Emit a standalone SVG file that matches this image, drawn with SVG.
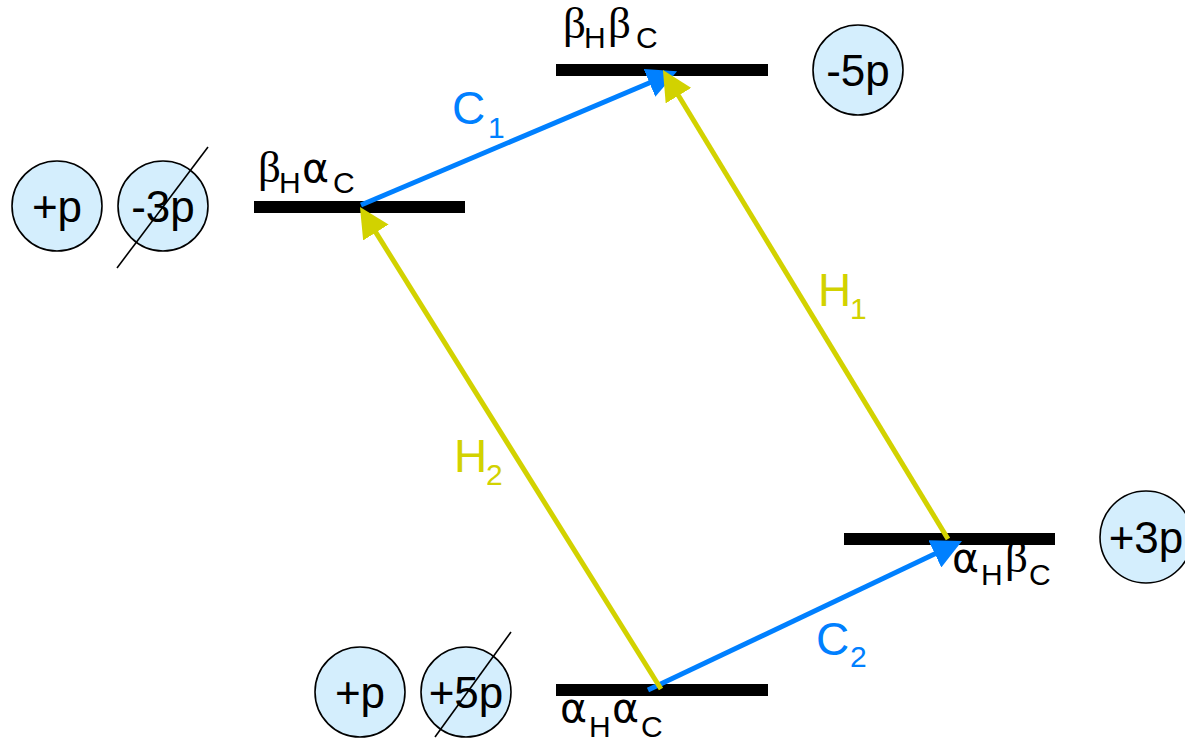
<svg xmlns="http://www.w3.org/2000/svg" width="1185" height="741" viewBox="0 0 1185 741">
<style>
.bar{fill:#000}
.circ{fill:#d4eefd;stroke:#000;stroke-width:1.6}
.ct{font-family:"Liberation Sans",Arial,sans-serif;font-size:44px;fill:#000;text-anchor:middle}
.strike{stroke:#000;stroke-width:1.6;fill:none}
.lv{fill:#000}
.b{font-family:"Liberation Serif","Times New Roman",serif;font-size:45px}
.a{font-family:"DejaVu Sans",sans-serif;font-size:41px}
.sb{font-family:"Liberation Sans",Arial,sans-serif;font-size:30px}
.blue{stroke:#0080ff;stroke-width:5;fill:none}
.yel{stroke:#d2d200;stroke-width:5;fill:none}
.lb{font-family:"Liberation Sans",Arial,sans-serif;font-size:46px}
.ls{font-family:"Liberation Sans",Arial,sans-serif;font-size:30px}
</style>
<defs>
<marker id="ab" markerUnits="userSpaceOnUse" markerWidth="30" markerHeight="30" viewBox="0 0 30 30" refX="6" refY="15" orient="auto"><path d="M0,0 L30,15 L0,30 z" fill="#0080ff"/></marker>
<marker id="ay" markerUnits="userSpaceOnUse" markerWidth="30" markerHeight="30" viewBox="0 0 30 30" refX="6" refY="15" orient="auto"><path d="M0,0 L30,15 L0,30 z" fill="#d2d200"/></marker>
</defs>

<g id="level-bHbC">
<rect class="bar" x="556" y="64" width="212" height="12"/>
<text class="lv"><tspan class="b" x="563" y="38">β</tspan><tspan class="sb" x="584" y="48">H</tspan><tspan class="b" x="608" y="38">β</tspan><tspan class="sb" x="636" y="48">C</tspan></text>
</g>
<g id="level-bHaC">
<rect class="bar" x="254" y="201" width="211" height="12"/>
<text class="lv"><tspan class="b" x="258" y="182">β</tspan><tspan class="sb" x="279" y="193">H</tspan><tspan class="a" x="302" y="182">α</tspan><tspan class="sb" x="333" y="193">C</tspan></text>
</g>
<g id="level-aHbC">
<rect class="bar" x="844" y="533" width="211" height="12"/>
<text class="lv"><tspan class="a" x="952" y="572">α</tspan><tspan class="sb" x="981" y="585">H</tspan><tspan class="b" x="1005" y="572">β</tspan><tspan class="sb" x="1029" y="585">C</tspan></text>
</g>
<g id="level-aHaC">
<rect class="bar" x="556" y="684" width="212" height="12"/>
<text class="lv"><tspan class="a" x="560" y="722">α</tspan><tspan class="sb" x="589" y="737">H</tspan><tspan class="a" x="612" y="722">α</tspan><tspan class="sb" x="641" y="737">C</tspan></text>
</g>

<g id="circle-p-left">
<circle class="circ" cx="57" cy="206" r="45"/>
<text class="ct" x="57" y="222">+p</text>
</g>
<g id="circle-m3p">
<circle class="circ" cx="163" cy="206" r="45"/>
<text class="ct" x="163" y="222">-3p</text>
<line class="strike" x1="208" y1="147" x2="117" y2="268"/>
</g>
<g id="circle-m5p">
<circle class="circ" cx="858" cy="70" r="45"/>
<text class="ct" x="858" y="86">-5p</text>
</g>
<g id="circle-p3p">
<circle class="circ" cx="1146" cy="537" r="46"/>
<text class="ct" x="1146" y="553">+3p</text>
</g>
<g id="circle-p-bottom">
<circle class="circ" cx="360" cy="692" r="45"/>
<text class="ct" x="360" y="708">+p</text>
</g>
<g id="circle-p5p">
<circle class="circ" cx="466" cy="692" r="45"/>
<text class="ct" x="466" y="708">+5p</text>
<line class="strike" x1="511" y1="632" x2="435" y2="737"/>
</g>

<g id="connectors">
<line class="blue" x1="361" y1="205" x2="655" y2="80.5" marker-end="url(#ab)"/>
<line class="blue" x1="648" y1="690" x2="940.3" y2="551.3" marker-end="url(#ab)"/>
<line class="yel" x1="948" y1="539" x2="675.4" y2="90.5" marker-end="url(#ay)"/>
<line class="yel" x1="661" y1="689" x2="372.7" y2="227.4" marker-end="url(#ay)"/>
<text class="lb" x="452" y="124" fill="#0080ff">C</text><text class="ls" x="488" y="138" fill="#0080ff">1</text>
<text class="lb" x="816" y="655" fill="#0080ff">C</text><text class="ls" x="850" y="667" fill="#0080ff">2</text>
<text class="lb" x="818" y="306" fill="#d2d200">H</text><text class="ls" x="850" y="319" fill="#d2d200">1</text>
<text class="lb" x="454" y="472" fill="#d2d200">H</text><text class="ls" x="486" y="485" fill="#d2d200">2</text>
</g>
</svg>
